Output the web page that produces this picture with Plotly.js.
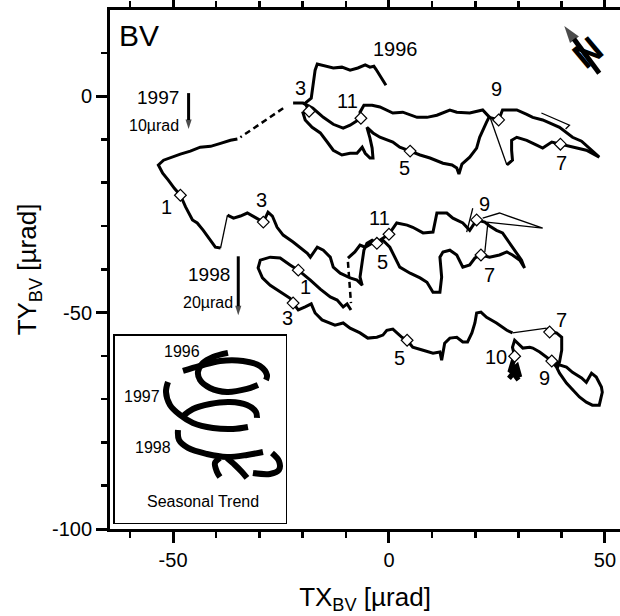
<!DOCTYPE html>
<html><head><meta charset="utf-8">
<script src="https://cdn.plot.ly/plotly-3.0.1.min.js"></script>
<style>html,body{margin:0;padding:0;background:#fff}#chart{width:620px;height:616px}</style>
</head><body><div id="chart"></div>
<script>
// ---- 1996 trajectory (µrad) ----
const x1996a = [-0.7,-1.8,-3.0,-3.5,-4.4,-5.5,-7.2,-9.0,-10.9,-12.9,-14.8,-16.6,-17.1,-17.6,-18.0,-19.4,-18.5,-19.9,-19.4,-17.8,-15.9,-14.3,-12.9,-10.9,-9.0,-7.4,-6.2,-5.5,-4.4,-3.7,-3.9,-4.4,-5.1,-3.7,-2.1,0.9,2.5,4.9,7.2,9.5,12.5,14.6,15.7,16.2,16.9,18.7,20.3,21.0,21.9,22.6,23.3];
const y1996a = [2.5,4.4,6.2,6.9,6.7,7.2,6.5,6.0,6.7,6.5,6.9,7.4,6.0,2.5,-0.5,-1.6,-3.5,-3.9,-5.5,-7.2,-8.5,-10.6,-12.5,-13.6,-13.2,-13.2,-11.8,-13.2,-14.3,-14.3,-12.0,-9.7,-7.2,-8.5,-9.5,-10.6,-11.8,-12.7,-13.6,-14.3,-15.5,-15.9,-16.6,-18.0,-15.7,-14.1,-12.0,-9.5,-7.4,-6.0,-4.6];
const x1996gap = [23.3,27.3];
const y1996gap = [-4.6,-15.9];
const x1996b = [27.3,28.6,28.4,28.4,29.6,31.9,34.2,35.6,37.7,39.7,42.5,45.7,48.7,47.1,44.6,42.5,39.5,35.6,33.3,31.9,29.6,26.3,25.4,23.3,21.7,18.7,15.7,14.1,11.1,8.8,6.5,3.2,0.9,-2.1,-3.9,-5.8,-6.7,-6.5,-9.0,-10.6,-12.9,-15.2,-17.6,-19.9,-22.2];
const y1996b = [-15.9,-14.8,-12.5,-10.2,-9.5,-10.2,-11.3,-12.0,-10.6,-11.1,-11.8,-12.5,-14.1,-12.7,-10.4,-9.5,-7.2,-5.5,-4.9,-4.2,-3.2,-3.2,-5.5,-4.9,-3.2,-3.9,-3.7,-3.2,-4.4,-4.9,-4.9,-3.7,-3.9,-2.5,-2.1,-2.1,-3.7,-5.1,-6.7,-7.4,-6.5,-4.9,-2.8,-1.6,-1.6];
const x1996spike = [35.3,41.8,40.9];
const y1996spike = [-3.9,-6.7,-7.6];
const xDash1 = [-24.5,-34.4];
const yDash1 = [-2.8,-9.5];

// ---- 1997 trajectory (offset 10 µrad) ----
const x1997a = [-35.1,-36.7,-39.0,-41.3,-43.7,-46.0,-48.3,-50.6,-52.2,-53.4,-52.4,-51.1,-49.7,-48.3,-47.1,-45.5,-44.4,-43.0,-41.3,-40.2,-39.0];
const y1997a = [-9.9,-10.2,-10.9,-11.6,-11.8,-12.7,-13.4,-14.3,-14.8,-15.9,-17.8,-19.4,-21.3,-22.9,-25.6,-28.6,-29.3,-31.0,-33.3,-34.9,-35.1];
const x1997gap = [-39.0,-37.4];
const y1997gap = [-35.1,-27.5];
const x1997b = [-37.4,-36.0,-34.4,-32.8,-31.0,-29.8,-29.1,-28.0,-27.0,-25.9,-24.5,-22.2,-20.6,-18.9,-18.2,-16.6,-15.2,-13.6,-12.9,-11.3,-9.0,-7.4,-6.2,-6.7,-6.2,-5.8,-5.1,-3.9,-2.8,-1.4,0.2,1.4,2.5,4.9,7.2,8.8,10.2,11.8,12.2,11.8,12.5,14.1,15.7,17.1,18.7,19.9,21.3,23.3,25.6,27.3,28.6,30.3,31.4,30.7,29.6,28.0,26.3,24.9,23.3,22.2,20.3,18.7,17.1,14.8,13.4,11.1,10.6,10.2,7.9,5.5,4.2,1.8,0,-2.1,-3.9,-5.5,-6.7,-7.9,-9.5];
const y1997b = [-27.5,-28.2,-27.7,-27.0,-28.0,-28.6,-29.1,-26.8,-27.7,-30.3,-32.1,-33.7,-34.9,-36.3,-37.2,-34.9,-35.6,-37.2,-39.5,-40.9,-42.0,-42.5,-43.7,-41.8,-38.3,-35.6,-34.0,-33.3,-34.0,-33.3,-34.9,-37.2,-39.5,-40.9,-42.0,-43.0,-45.3,-45.3,-41.8,-37.2,-36.0,-35.6,-36.7,-39.5,-39.0,-37.4,-36.7,-37.2,-36.7,-36.0,-36.7,-37.9,-39.7,-37.9,-36.3,-34.0,-31.6,-31.0,-30.0,-29.1,-28.6,-31.0,-29.3,-28.2,-27.0,-27.0,-29.3,-31.4,-31.6,-30.3,-29.8,-29.3,-31.9,-33.3,-34.0,-34.9,-34.4,-36.0,-37.4];
const x1997spikes = [21.7,25.6,35.6,22.6,null,22.9,22.2,null,19.4,18.0];
const y1997spikes = [-28.2,-27.0,-30.5,-29.1,null,-29.3,-36.0,null,-25.9,-31.4];
const xDash2 = [-9.5,-8.8];
const yDash2 = [-38.3,-47.8];

// ---- 1998 trajectory (offset 20 µrad) ----
const x1998a = [-8.8,-9.7,-10.6,-12.0,-13.6,-15.9,-18.2,-21.0,-22.9,-25.2,-27.5,-29.8,-30.3,-29.3,-27.5,-25.2,-22.9,-22.2,-21.0,-19.4,-18.0,-17.1,-15.5,-12.5,-10.6,-9.0,-6.7,-4.9,-2.8,-1.4,-0.5,0.9,3.0,4.2,5.5,7.9,10.2,11.8,12.2,12.9,14.1,15.7,17.1,18.2,19.2,19.9,20.3,21.3,22.6,24.9,27.3,28.6];
const y1998a = [-49.4,-48.0,-48.7,-47.1,-46.4,-44.6,-42.5,-40.2,-39.0,-37.4,-37.2,-37.9,-39.7,-42.0,-43.7,-45.3,-46.7,-47.8,-49.4,-48.7,-48.0,-50.1,-51.7,-52.9,-52.4,-53.6,-54.7,-55.9,-55.7,-55.2,-54.1,-53.8,-55.7,-56.4,-58.0,-58.7,-59.4,-59.1,-61.0,-57.1,-55.9,-55.7,-56.8,-56.8,-54.7,-52.4,-50.1,-49.9,-51.1,-52.4,-54.1,-54.7];
const x1998gap = [28.6,36.5];
const y1998gap = [-54.7,-53.6];
const x1998b = [36.5,37.2,38.8,40.0,40.0,39.5,39.0,38.8,39.5,41.1,42.5,44.6,45.7,46.9,48.0,49.2,49.4,48.7,47.1,45.7,44.1,42.5,41.1,39.5,38.8,37.7,36.5,34.9,33.3,32.6,31.0,29.8,29.1,28.6,29.1];
const y1998b = [-53.6,-54.5,-54.7,-55.7,-58.7,-61.4,-62.8,-61.4,-62.1,-62.6,-63.8,-65.1,-66.1,-64.0,-64.9,-67.2,-68.4,-71.4,-71.4,-70.7,-69.5,-67.9,-66.3,-64.0,-62.6,-61.2,-60.3,-59.1,-58.2,-58.0,-58.2,-57.1,-56.4,-58.0,-60.1];
const x1998blob = [29.1,28.6,28.0,28.9,29.6,30.3,29.6,28.4,27.8,28.8,30.0];
const y1998blob = [-60.1,-62.1,-63.8,-63.0,-62.4,-64.9,-63.3,-64.4,-65.2,-64.0,-65.6];

// ---- monthly markers ----
const markX = [-18.5,4.9,39.7,25.4,-6.5, -48.3,-29.1,-2.8,21.3,20.3,0, -21.0,-22.2,4.2,37.2,37.7,29.1];
const markY = [-3.5,-12.7,-11.1,-5.5,-5.1, -22.9,-29.1,-34.0,-36.7,-28.6,-31.9, -40.2,-47.8,-56.4,-54.5,-61.2,-60.1];

// ---- month labels ----
const monthText = ['3','11','5','9','7', '1','3','11','5','9','7', '1','3','5','7','10','9'];
const monthX = [-20.6,-9.5,3.7,24.9,40.0, -51.5,-29.6,-2.1,-1.4,22.2,23.3, -19.4,-23.6,2.5,40.0,24.9,36.0];
const monthY = [1.8,-1.2,-16.6,1.6,-15.5, -25.6,-24.0,-28.2,-38.3,-24.9,-41.3, -44.1,-51.3,-60.5,-51.7,-60.3,-65.1];

// ---- offset arrows and north arrow ----
const arrow1997X = [-46.4,-46.4];
const arrow1997Y = [0.7,-7.6];
const arrow1998X = [-34.9,-34.9];
const arrow1998Y = [-37.0,-50.6];
const northX = [48.7,40.6];
const northY = [5.3,16.2];

// ---- axis ticks ----
const xTickVals = [-50,0,50];
const xTickText = ['-50','0','50'];
const yTickVals = [-100,-50,0];
const yTickText = ['-100','-50','0'];
const xMinorVals = [-60,-40,-30,-20,-10,10,20,30,40];
const yMinorVals = [-90,-80,-70,-60,-40,-30,-20,-10,10];

// ---- inset "Seasonal Trend" sketch (inset units) ----
const in96aU = [113,98,88,83,85,95,112,132,143];
const in96aV = [170,166,160,151,143,135,131,134,138];
const in96bU = [68,85,105,128,145,152,151];
const in96bV = [152,157,162,162,157,148,143];
const in97aU = [53,51,55,65,78,98,118,133];
const in97aV = [141,131,118,108,100,95,94,96];
const in97bU = [67,78,95,115,132,141,142];
const in97bV = [106,114,119,121,118,111,105];
const in98aU = [63,64,73,92,112,132,148];
const in98aV = [93,83,75,69,66,68,71];
const in98bU = [105,100,102,105];
const in98bV = [65,60,51,46];
const in98cU = [112,120,127,132];
const in98cV = [65,58,51,45];
const in98dU = [157,164,164,155,138];
const in98dV = [70,62,53,49,50];

const FONT = 'Liberation Sans, Arial, sans-serif';
function ln(x, y, w, dash) {
  return {x: x, y: y, type: 'scatter', mode: 'lines', line: {color: 'black', width: w, dash: dash || 'solid'}, hoverinfo: 'skip', showlegend: false};
}
function inl(u, v) {
  return {x: u, y: v, xaxis: 'x2', yaxis: 'y2', type: 'scatter', mode: 'lines', line: {color: 'black', width: 6, shape: 'spline'}, hoverinfo: 'skip', showlegend: false};
}
function arrow(x, y, w, size) {
  return {x: x, y: y, type: 'scatter', mode: 'lines+markers', line: {color: 'black', width: w},
    marker: {symbol: ['circle', 'arrow'], size: [0, size], color: 'black', angleref: 'previous', line: {width: 0}},
    hoverinfo: 'skip', showlegend: false};
}

const traces = [
  ln(x1996a, y1996a, 3), ln(x1996gap, y1996gap, 1.3), ln(x1996b, y1996b, 3), ln(x1996spike, y1996spike, 1.3),
  ln(xDash1, yDash1, 2.5, '6px,4px'),
  ln(x1997a, y1997a, 3), ln(x1997gap, y1997gap, 1.3), ln(x1997b, y1997b, 3), ln(x1997spikes, y1997spikes, 1.3),
  ln(xDash2, yDash2, 2.5, '6px,4px'),
  ln(x1998a, y1998a, 3), ln(x1998gap, y1998gap, 1.3), ln(x1998b, y1998b, 3), ln(x1998blob, y1998blob, 5),
  arrow(arrow1997X, arrow1997Y, 3, 10), arrow(arrow1998X, arrow1998Y, 3, 10), arrow(northX, northY, 5, 18),
  {x: markX, y: markY, type: 'scatter', mode: 'markers', marker: {symbol: 'diamond', size: 9, color: 'white', line: {color: 'black', width: 1.2}}, hoverinfo: 'skip', showlegend: false},
  inl(in96aU, in96aV), inl(in96bU, in96bV), inl(in97aU, in97aV), inl(in97bU, in97bV),
  inl(in98aU, in98aV), inl(in98bU, in98bV), inl(in98cU, in98cV), inl(in98dU, in98dV)
];

const annotations = [];
for (let i = 0; i < monthText.length; i++) {
  annotations.push({x: monthX[i], y: monthY[i], text: monthText[i], showarrow: false, font: {size: 20}, xanchor: 'center', yanchor: 'middle'});
}
annotations.push(
  {x: -57.8, y: 13.9, text: 'BV', showarrow: false, font: {size: 30}},
  {x: 1.6, y: 10.9, text: '1996', showarrow: false, font: {size: 20}},
  {x: -53.4, y: -0.2, text: '1997', showarrow: false, font: {size: 19}},
  {x: -54.5, y: -6.7, text: '10µrad', showarrow: false, font: {size: 16}},
  {x: -41.6, y: -41.3, text: '1998', showarrow: false, font: {size: 19}},
  {x: -42.0, y: -47.6, text: '20µrad', showarrow: false, font: {size: 16}},
  {x: 46.0, y: 10.0, text: '<b>N</b>', showarrow: false, textangle: -40, font: {size: 36}},
  {x: 67, y: 171, xref: 'x2', yref: 'y2', text: '1996', showarrow: false, font: {size: 16}},
  {x: 27, y: 126, xref: 'x2', yref: 'y2', text: '1997', showarrow: false, font: {size: 16}},
  {x: 38, y: 75, xref: 'x2', yref: 'y2', text: '1998', showarrow: false, font: {size: 16}},
  {x: 88, y: 21, xref: 'x2', yref: 'y2', text: 'Seasonal Trend', showarrow: false, font: {size: 16}}
);

const axBase = {
  tickmode: 'array', ticks: 'outside', ticklen: 11, tickwidth: 3, tickcolor: 'black',
  showline: true, linewidth: 3, linecolor: 'black', mirror: 'ticks',
  showgrid: false, zeroline: false, tickfont: {size: 20, color: 'black'}
};

const layout = {
  width: 620, height: 616,
  margin: {l: 110, r: 0, t: 10, b: 87},
  paper_bgcolor: 'white', plot_bgcolor: 'rgba(0,0,0,0)',
  font: {family: FONT, color: 'black', size: 20},
  showlegend: false,
  xaxis: Object.assign({}, axBase, {
    range: [-64.6, 53.5], tickvals: xTickVals, ticktext: xTickText,
    minor: {tickmode: 'array', tickvals: xMinorVals, ticks: 'outside', ticklen: 6, tickwidth: 2.5, tickcolor: 'black', showgrid: false},
    title: {text: 'TX<sub>BV</sub> [µrad]', font: {size: 26}, standoff: 18}
  }),
  yaxis: Object.assign({}, axBase, {
    range: [-100, 19.9], tickvals: yTickVals, ticktext: yTickText,
    minor: {tickmode: 'array', tickvals: yMinorVals, ticks: 'outside', ticklen: 6, tickwidth: 2.5, tickcolor: 'black', showgrid: false},
    title: {text: 'TY<sub>BV</sub> [µrad]', font: {size: 26}, standoff: 8}
  }),
  xaxis2: {domain: [0.0098, 0.345], anchor: 'y2', range: [0, 171], showline: true, mirror: true, linewidth: 1.5, linecolor: 'black', showticklabels: false, ticks: '', showgrid: false, zeroline: false},
  yaxis2: {domain: [0.0116, 0.372], anchor: 'x2', range: [0, 187], showline: true, mirror: true, linewidth: 1.5, linecolor: 'black', showticklabels: false, ticks: '', showgrid: false, zeroline: false},
  annotations: annotations
};

Plotly.newPlot('chart', traces, layout, {staticPlot: true, displayModeBar: false});
</script>
</body></html>
